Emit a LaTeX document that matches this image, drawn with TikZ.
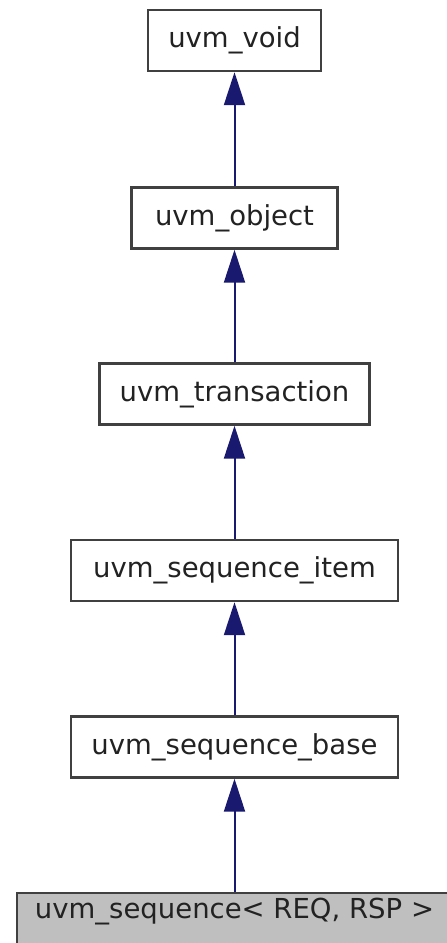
\documentclass[tikz,border=0pt]{standalone}
\usepackage{fontspec}
\setmainfont{DejaVu Sans}
\usetikzlibrary{arrows.meta}
\definecolor{edgeblue}{RGB}{25,25,112}
\definecolor{boxline}{RGB}{64,64,64}
\definecolor{boxgray}{RGB}{191,191,191}
\definecolor{txt}{RGB}{34,34,34}
\tikzset{
  x=1pt, y=-1pt,
  labelfont/.style={font=\fontsize{27.5}{32}\selectfont, text=txt},
  classbox/.style={draw=boxline, line width=2.4pt, fill=white, inner sep=0pt,
    minimum height=61pt, labelfont},
  inherit/.style={draw=edgeblue, line width=2pt,
    -{Triangle[length=33pt,width=21pt]}, fill=edgeblue}
}
\begin{document}
\begin{tikzpicture}
\useasboundingbox (0,0) rectangle (447,943);
\clip (0,0) rectangle (447,943);
% class hierarchy, base class at the top
\node[classbox, minimum width=173pt] (void) at (234.5,40.5) {uvm\_void};
\node[classbox, minimum width=206pt] (object) at (234.5,218) {uvm\_object};
\node[classbox, minimum width=270pt] (trans) at (234.5,394) {uvm\_transaction};
\node[classbox, minimum width=327pt] (item) at (234.5,570.5) {uvm\_sequence\_item};
\node[classbox, minimum width=327pt] (base) at (234.5,747) {uvm\_sequence\_base};
\node[classbox, fill=boxgray, minimum width=460pt, anchor=north west] (seq) at (16,892) {};
\node[labelfont, inner sep=0pt] (seqlabel) at (234.5,912) {uvm\_sequence< REQ, RSP >};
% inheritance arrows
\draw[inherit] (object.north) -- (void.south);
\draw[inherit] (trans.north) -- (object.south);
\draw[inherit] (item.north) -- (trans.south);
\draw[inherit] (base.north) -- (item.south);
\draw[inherit] (seqlabel.center |- seq.north) -- (base.south);
\end{tikzpicture}
\end{document}
